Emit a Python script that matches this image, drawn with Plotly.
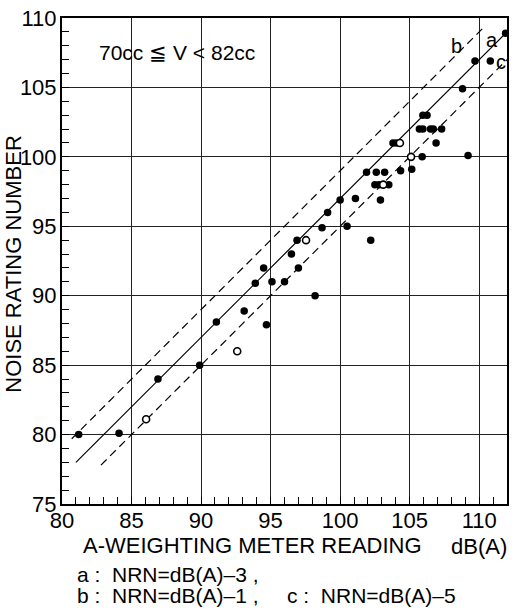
import plotly.graph_objects as go

# Measured points: A-weighted meter reading vs noise rating number
filled_db = [81.2, 84.1, 86.9, 89.9, 91.1, 93.1, 94.7, 93.9, 94.5, 95.1, 96.0, 97.0,
             96.5, 96.9, 98.2, 98.7, 99.1, 100.0, 100.5, 101.1, 102.2, 102.9, 101.9,
             102.6, 103.2, 104.35, 105.15, 102.5, 102.8, 103.5, 103.8, 104.05, 105.9,
             109.2, 106.9, 105.7, 105.95, 106.5, 106.7, 107.3, 105.95, 106.25, 108.8,
             109.7, 110.8, 111.9]
filled_nrn = [80.0, 80.1, 84.0, 85.0, 88.1, 88.9, 87.9, 90.9, 92.0, 91.0, 91.0, 92.0,
              93.0, 94.0, 90.0, 94.9, 96.0, 96.9, 95.0, 97.0, 94.0, 96.9, 98.9,
              98.9, 98.9, 99.0, 99.1, 98.0, 98.0, 98.0, 101.0, 101.0, 100.0,
              100.1, 101.0, 102.0, 102.0, 102.0, 102.0, 102.0, 103.0, 103.0, 104.9,
              106.9, 106.9, 108.9]

open_db = [86.05, 92.6, 97.55, 103.1, 104.3, 105.1]
open_nrn = [81.1, 86.0, 94.0, 98.0, 101.0, 100.0]

# Reference lines NRN = dB(A) + offset
line_names = ["a", "b", "c"]
line_offsets = [-3, -1, -5]
line_x_start = [81.0, 80.7, 82.8]
line_x_end = [112.0, 110.3, 112.0]
line_dash = ["solid", "8px,5px", "8px,5px"]
label_x = [110.9, 108.4, 111.6]
label_y = [108.4, 108.0, 106.8]

x_range = [80, 112]
y_range = [75, 110]
x_ticks = [80, 85, 90, 95, 100, 105, 110]
y_ticks = [75, 80, 85, 90, 95, 100, 105, 110]

FONT = "Liberation Sans, Arial, sans-serif"

# plot-area geometry in pixels (used to place the texts outside the axes)
L, R, T, B = 62, 509, 17, 504
W, H = R - L, B - T


def px(xp):
    return (xp - L) / W


def py(yp):
    return (B - yp) / H


fig = go.Figure()

for name, off, x0, x1, dash in zip(line_names, line_offsets, line_x_start, line_x_end, line_dash):
    fig.add_trace(go.Scatter(
        x=[x0, x1], y=[x0 + off, x1 + off], mode="lines",
        line=dict(color="black", width=1.2, dash=dash),
        hoverinfo="skip", showlegend=False))

fig.add_trace(go.Scatter(
    x=filled_db, y=filled_nrn, mode="markers",
    marker=dict(symbol="circle", size=7.5, color="black", line=dict(width=0)),
    showlegend=False))
fig.add_trace(go.Scatter(
    x=open_db, y=open_nrn, mode="markers",
    marker=dict(symbol="circle", size=7, color="white", line=dict(color="black", width=1.6)),
    showlegend=False))

for name, lx, ly in zip(line_names, label_x, label_y):
    fig.add_annotation(x=lx, y=ly, text=name, showarrow=False,
                       xanchor="center", yanchor="middle",
                       font=dict(family=FONT, size=20, color="black"))

fig.add_annotation(x=82.5, y=107.5, xanchor="left", yanchor="middle",
                   text="70cc \u2266 V < 82cc",
                   showarrow=False, font=dict(family=FONT, size=21, color="black"))

# axis titles and the line-equation key below the plot
texts = [
    ("A-WEIGHTING METER READING", 253, 546, "center", 22, 0),
    ("dB(A)", 481, 547, "center", 22, 0),
    ("a :  NRN=dB(A)\u20133 ,", 76, 575, "left", 21, 0),
    ("b :  NRN=dB(A)\u20131 ,", 76, 596, "left", 21, 0),
    ("c :  NRN=dB(A)\u20135", 287, 596, "left", 21, 0),
    ("NOISE RATING NUMBER", 13, 263, "center", 22, -90),
]
for txt, xp, yp, anchor, size, angle in texts:
    fig.add_annotation(xref="paper", yref="paper", x=px(xp), y=py(yp),
                       xanchor=anchor, yanchor="middle", text=txt, textangle=angle,
                       borderpad=0, showarrow=False,
                       font=dict(family=FONT, size=size, color="black"))

axis_common = dict(
    showline=True, linecolor="black", linewidth=2, mirror=True,
    showgrid=True, gridcolor="#222222", gridwidth=1,
    ticks="inside", ticklen=7, tickcolor="black", tickwidth=1,
    zeroline=False, tickfont=dict(family=FONT, size=22, color="black"),
    minor=dict(dtick=1, ticks="inside", ticklen=7, tickcolor="black", tickwidth=1,
               showgrid=False),
)

fig.update_xaxes(range=x_range, tickvals=x_ticks, ticklabelstandoff=-4, **axis_common)
fig.update_yaxes(range=y_range, tickvals=y_ticks, ticklabelstandoff=-1, **axis_common)

fig.update_layout(
    width=515, height=611,
    margin=dict(l=L, r=515 - R, t=T, b=611 - B),
    paper_bgcolor="white", plot_bgcolor="white",
    showlegend=False,
)

fig.write_html("out.html")
